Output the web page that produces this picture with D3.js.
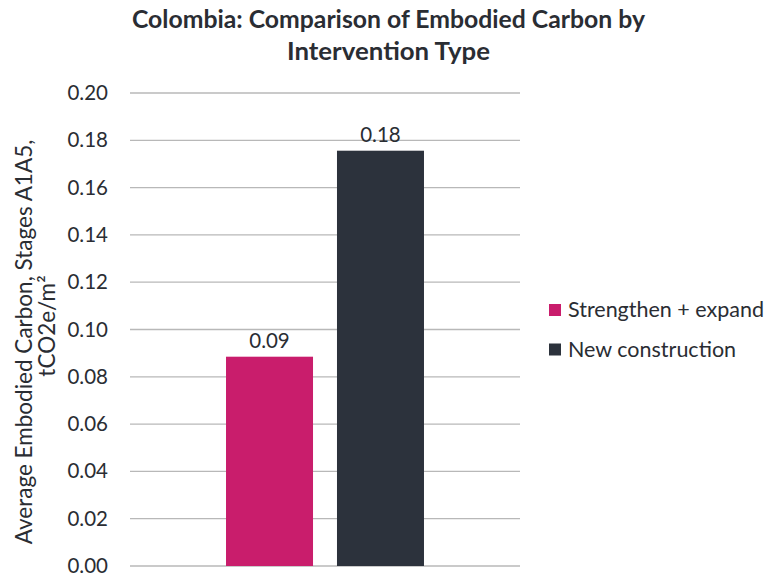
<!DOCTYPE html>
<html>
<head>
<meta charset="utf-8">
<script src="https://cdn.jsdelivr.net/npm/d3@7"></script>
<style>
  html, body { margin: 0; padding: 0; background: #fff; }
  svg text { font-family: "Lato", "Open Sans", sans-serif; fill: #2a2d33; }
</style>
</head>
<body>
<svg id="chart" width="770" height="573"></svg>
<script>
// Embodied carbon by intervention type (tCO2e/m²)
const categories = ["Colombia"];
const seriesNames = ["Strengthen + expand", "New construction"];
const seriesValues = [0.0885, 0.1756];
const valueLabels = ["0.09", "0.18"];
const seriesColors = ["#C91D6C", "#2C323C"];
const yTicks = [0, 0.02, 0.04, 0.06, 0.08, 0.10, 0.12, 0.14, 0.16, 0.18, 0.20];
const titleLines = ["Colombia: Comparison of Embodied Carbon by", "Intervention Type"];

const svg = d3.select("#chart");
const margin = { left: 130, right: 250, top: 93, bottom: 7 };
const W = 770, H = 573;
const plotW = W - margin.left - margin.right;
const plotH = H - margin.top - margin.bottom;

const g = svg.append("g").attr("transform", `translate(${margin.left},${margin.top})`);

const y = d3.scaleLinear().domain([0, 0.2]).range([plotH, 0]);
const x0 = d3.scaleBand().domain(categories).range([0, plotW]).paddingInner(0).paddingOuter(0.485);
const x1 = d3.scaleBand().domain(seriesNames).range([0, x0.bandwidth()]).paddingInner(0.216).paddingOuter(0);

// gridlines
g.append("g")
  .selectAll("line")
  .data(yTicks)
  .join("line")
  .attr("x1", 0).attr("x2", plotW)
  .attr("y1", d => y(d)).attr("y2", d => y(d))
  .attr("stroke", "#b8b8b8").attr("stroke-width", 1.3);

// y axis tick labels
const yAxis = d3.axisLeft(y).tickValues(yTicks).tickFormat(d3.format(".2f")).tickSize(0).tickPadding(22);
const ya = g.append("g").call(yAxis);
ya.select(".domain").remove();
ya.selectAll("text").attr("font-size", 20.5).style("font-family", '"Lato", sans-serif').attr("fill", "#2a2d33");

// bars
const bars = seriesNames.map((s, i) => ({ cat: categories[0], name: s, value: seriesValues[i], label: valueLabels[i], color: seriesColors[i] }));
g.selectAll("rect.bar")
  .data(bars)
  .join("rect")
  .attr("class", "bar")
  .attr("x", d => x0(d.cat) + x1(d.name))
  .attr("width", x1.bandwidth())
  .attr("y", d => y(d.value))
  .attr("height", d => y(0) - y(d.value))
  .attr("fill", d => d.color);

// value labels
g.selectAll("text.val")
  .data(bars)
  .join("text")
  .attr("class", "val")
  .attr("x", d => x0(d.cat) + x1(d.name) + x1.bandwidth() / 2)
  .attr("y", d => y(d.value) - 9)
  .attr("text-anchor", "middle")
  .attr("font-size", 20.5)
  .text(d => d.label);

// title, two centred lines
const titleLen = [513, 203];
const titleBase = [28, 60];
svg.selectAll("text.title")
  .data(titleLines)
  .join("text")
  .attr("class", "title")
  .attr("x", 388.5)
  .attr("y", (d, i) => titleBase[i])
  .attr("text-anchor", "middle")
  .attr("font-size", 24).attr("font-weight", "bold")
  .attr("textLength", (d, i) => titleLen[i])
  .attr("lengthAdjust", "spacingAndGlyphs")
  .text(d => d);

// y axis title
svg.append("text")
  .attr("transform", "translate(32,342) rotate(-90)")
  .attr("text-anchor", "middle")
  .attr("font-size", 22.5)
  .text("Average Embodied Carbon, Stages A1A5,");
svg.append("text")
  .attr("transform", "translate(55,326) rotate(-90)")
  .attr("text-anchor", "middle")
  .attr("font-size", 22.5)
  .text("tCO2e/m²");

// legend
const legend = svg.append("g").attr("transform", "translate(549,300)");
const li = legend.selectAll("g").data(seriesNames).join("g")
  .attr("transform", (d, i) => `translate(0,${i * 39.5})`);
li.append("rect").attr("width", 12).attr("height", 12).attr("y", 4)
  .attr("fill", (d, i) => seriesColors[i]);
li.append("text").attr("x", 19).attr("y", 17).attr("font-size", 21.5).text(d => d);
</script>
</body>
</html>
